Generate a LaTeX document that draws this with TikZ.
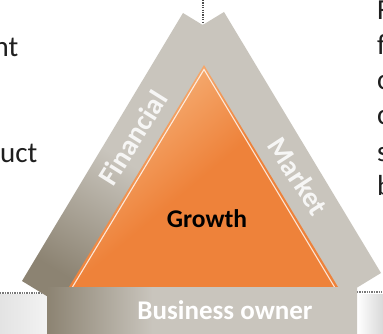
\documentclass[tikz,border=0pt]{standalone}
\usepackage{fontspec}
\setmainfont{Carlito}
\definecolor{bandlight}{RGB}{201,197,189}
\definecolor{banddark}{RGB}{140,131,114}
\definecolor{orangemain}{RGB}{238,130,58}
\definecolor{orangelight}{RGB}{246,178,122}
\definecolor{dotgray}{RGB}{120,120,120}
\pgfdeclareverticalshading{leftbandshade}{100bp}{color(0bp)=(banddark); color(25bp)=(banddark); color(50bp)=(bandlight); color(100bp)=(bandlight)}
\pgfdeclarehorizontalshading{barshade}{100bp}{color(0bp)=(banddark); color(25bp)=(banddark); color(42bp)=(bandlight); color(100bp)=(bandlight)}
\pgfdeclareverticalshading{orangeshade}{100bp}{color(0bp)=(orangemain); color(50bp)=(orangemain); color(72bp)=(orangelight); color(100bp)=(orangelight)}
\tikzset{
  dotline/.style={dotgray, line width=1.2pt, dash pattern=on 1.3pt off 1.1pt},
  bandtext/.style={text=white, text opacity=.85, inner sep=0pt, font=\bfseries\fontsize{28.5}{30}\selectfont},
  bodytext/.style={text=black!88, inner sep=0pt, font=\fontsize{29}{35}\selectfont},
}
\begin{document}
\begin{tikzpicture}[x=1pt,y=-1pt]
\useasboundingbox (0,0) rectangle (383,334);
\fill[white] (0,0) rectangle (383,334);
% faded background photo pieces
\shade[left color=gray!22, right color=gray!10] (0,294) rectangle (47,334);
\shade[left color=white, right color=gray!30] (357,294) rectangle (383,334);
% dotted guide lines
\coordinate (dl1) at (0,293); \coordinate (dl2) at (47,293);
\coordinate (dr1) at (357,292); \coordinate (dr2) at (383,292);
\coordinate (dv1) at (203,0); \coordinate (dv2) at (203,24);
\draw[dotline] (dl1) -- (dl2);
\draw[dotline] (dr1) -- (dr2);
\draw[dotline, black!70] (dv1) -- (dv2);
% right band
\fill[bandlight] (224,12) -- (381,273) -- (340,298) -- (183,37) -- cycle;
% left band
\shade[shading=leftbandshade, shading angle=-31] (183,13) -- (22,281) -- (63,306) -- (224,38) -- cycle;
% orange triangle
\shade[shading=orangeshade, shading angle=40] (204,65) -- (69,287) -- (338,287) -- cycle;
\draw[white, line width=1.1pt, opacity=.8] (72.5,287) -- (204,69.5) -- (334.5,287);
% bottom bar
\shade[shading=barshade] (47,287) rectangle (357,334);
% texts
\node[bandtext, rotate=58] (fin) at (133,138) {Financial};
\node[bandtext, rotate=-57] (mkt) at (298,176) {Market};
\node[anchor=base, inner sep=0pt, font=\bfseries\fontsize{25.5}{30}\selectfont] (growth) at (207,227) {Growth};
\node[anchor=base, inner sep=0pt, text=white, font=\bfseries\fontsize{27}{30}\selectfont] (owner) at (225,319.5) {Business owner};
% cut-off body text on the left
\node[bodytext, anchor=base east] (lt1) at (18.5,57) {nt};
\node[bodytext, anchor=base east] (lt2) at (37.5,163) {uct};
% cut-off body text on the right
\node[bodytext, anchor=base west] (rt1) at (377,20) {F};
\node[bodytext, anchor=base west] (rt2) at (377,55) {f};
\node[bodytext, anchor=base west] (rt3) at (377,90) {c};
\node[bodytext, anchor=base west] (rt4) at (377,125) {c};
\node[bodytext, anchor=base west] (rt5) at (377,161) {s};
\node[bodytext, anchor=base west] (rt6) at (377,195) {b};
\end{tikzpicture}
\end{document}
